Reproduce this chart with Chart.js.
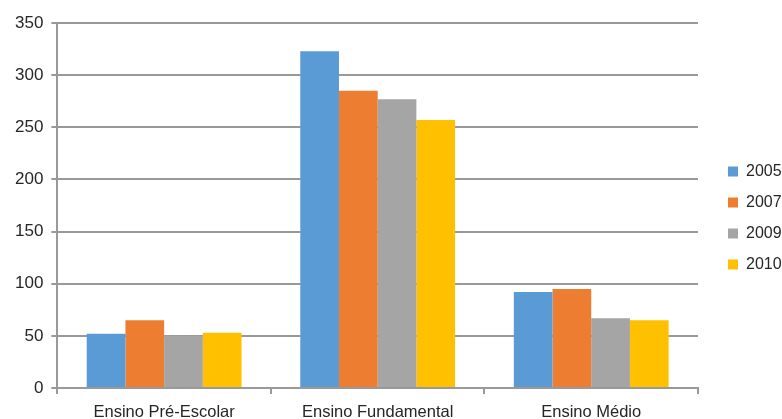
<!DOCTYPE html>
<html>
<head>
<meta charset="utf-8">
<script src="https://cdn.jsdelivr.net/npm/chart.js@4/dist/chart.umd.min.js"></script>
<style>
  html, body { margin: 0; padding: 0; background: #fff; }
  #wrap { width: 782px; height: 419px; }
</style>
</head>
<body>
<div id="wrap"><canvas id="chart"></canvas></div>
<script>
const categories = ['Ensino Pré-Escolar', 'Ensino Fundamental', 'Ensino Médio'];
const years = ['2005', '2007', '2009', '2010'];
const values2005 = [52, 323, 92];
const values2007 = [65, 285, 95];
const values2009 = [50, 277, 67];
const values2010 = [53, 257, 65];
const colors = ['#5B9BD5', '#ED7D31', '#A5A5A5', '#FFC000'];
const yTicks = [0, 50, 100, 150, 200, 250, 300, 350];

const series = [values2005, values2007, values2009, values2010];
const gridColor = '#999999';

// fixed legend width, then nudge the legend so there is a gap after the plot
const legendPlace = {
    id: 'legendPlace',
    beforeUpdate(chart) {
        const lg = chart.legend;
        if (lg && !lg._patched) {
            const fit = lg.fit.bind(lg);
            lg.fit = function () { fit(); this.width = 84; };
            lg._patched = true;
        }
    },
    afterLayout(chart) {
        const lg = chart.legend;
        if (lg) {
            lg.left += 15; lg.right += 15;
            lg.top -= 3; lg.bottom -= 3;
        }
    }
};

const ctx = document.getElementById('chart').getContext('2d');
const chart = new Chart(ctx, {
    type: 'bar',
    data: {
        labels: categories,
        datasets: years.map((y, i) => ({
            label: y,
            data: series[i],
            backgroundColor: colors[i],
            borderWidth: 0,
            categoryPercentage: 0.725,
            barPercentage: 1.0
        }))
    },
    options: {
        responsive: true,
        maintainAspectRatio: false,
        animation: false,
        layout: { padding: { top: 23, left: 7, right: 0, bottom: 0 } },
        plugins: {
            legend: {
                position: 'right',
                labels: {
                    boxWidth: 10,
                    boxHeight: 10,
                    padding: 15,
                    color: '#262626',
                    font: { family: 'Liberation Sans', size: 16 }
                }
            },
            tooltip: { enabled: false }
        },
        scales: {
            x: {
                afterFit(axis) { axis.height = 31; },
                grid: {
                    drawOnChartArea: false,
                    drawTicks: true,
                    tickLength: 6,
                    color: gridColor,
                    lineWidth: 2
                },
                border: { color: gridColor, width: 2 },
                ticks: {
                    color: '#262626',
                    padding: 9,
                    font: { family: 'Liberation Sans', size: 16.5 }
                }
            },
            y: {
                min: 0,
                max: 350,
                afterBuildTicks(axis) {
                    axis.ticks = yTicks.map(v => ({ value: v }));
                },
                grid: {
                    color: gridColor,
                    lineWidth: 2,
                    tickLength: 6
                },
                border: { color: gridColor, width: 2 },
                ticks: {
                    color: '#262626',
                    padding: 8,
                    font: { family: 'Liberation Sans', size: 17 }
                }
            }
        }
    },
    plugins: [legendPlace]
});
</script>
</body>
</html>
